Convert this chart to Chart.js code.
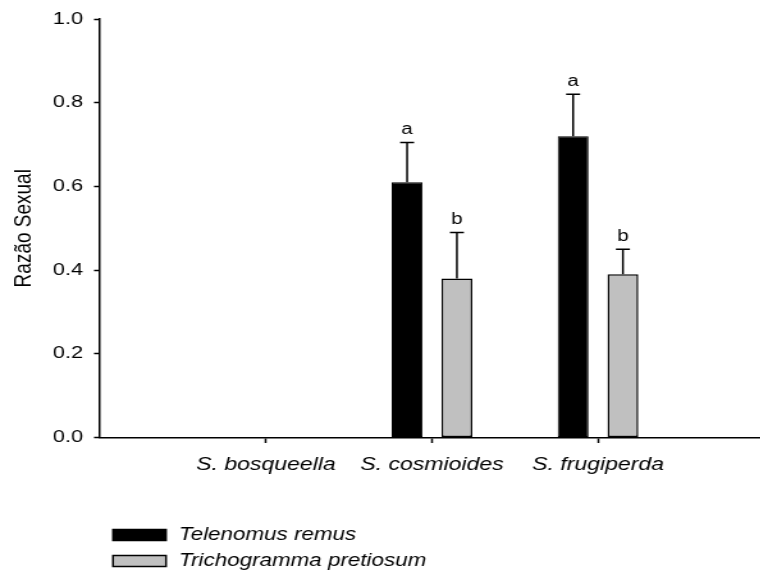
<!DOCTYPE html>
<html>
<head>
<meta charset="utf-8">
<script src="https://cdn.jsdelivr.net/npm/chart.js@4/dist/chart.umd.min.js"></script>
<style>
  html, body { margin: 0; padding: 0; background: #fff; overflow: hidden; width: 760px; height: 574px; }
  #wrap { height: 574px; transform-origin: 0 0; }
</style>
</head>
<body>
<div id="wrap"><canvas id="c"></canvas></div>
<script>
// Host species (x categories)
const species = ['S. bosqueella', 'S. cosmioides', 'S. frugiperda'];
// Parasitoid series
const seriesNames = ['Telenomus remus', 'Trichogramma pretiosum'];
// Sex ratio, mean and standard error, per host
const remusMean = [null, 0.61, 0.72];
const remusSE = [null, 0.095, 0.10];
const remusLetters = ['', 'a', 'a'];
const pretiosumMean = [null, 0.38, 0.39];
const pretiosumSE = [null, 0.11, 0.06];
const pretiosumLetters = ['', 'b', 'b'];
// Y axis ticks
const yTicks = [0, 0.2, 0.4, 0.6, 0.8, 1.0];

const FONT = "'Liberation Sans', Arial, Helvetica, sans-serif";

// The figure is drawn narrow and widened horizontally (broad lettering of the original plot).
const SX = 1.28;
const px = v => v / SX;          // page-horizontal pixels -> canvas pixels
const CANVAS_W = Math.ceil(px(772));
const canvas = document.getElementById('c');
canvas.width = CANVAS_W;
canvas.height = 574;
const wrap = document.getElementById('wrap');
wrap.style.width = CANVAS_W + 'px';
wrap.style.transform = 'scaleX(' + SX + ')';

// hosts sit at 1..n on a 0..n+1 axis
const toPoints = arr => arr.map((v, i) => ({ x: i + 1, y: v }));

// upward standard-error whiskers with significance letters above them
const errorBars = {
  id: 'errorBars',
  afterDatasetsDraw(chart) {
    const ctx = chart.ctx;
    const yScale = chart.scales.y;
    chart.data.datasets.forEach((ds, d) => {
      const meta = chart.getDatasetMeta(d);
      ds.data.forEach((pt, i) => {
        if (pt.y == null) return;
        const bar = meta.data[i];
        const top = yScale.getPixelForValue(pt.y + ds.errors[i]);
        const half = px(7);
        ctx.save();
        ctx.strokeStyle = '#000';
        ctx.lineWidth = 1.5;
        ctx.beginPath();
        ctx.moveTo(bar.x, bar.y);
        ctx.lineTo(bar.x, top);
        ctx.moveTo(bar.x - half, top);
        ctx.lineTo(bar.x + half, top);
        ctx.stroke();
        ctx.fillStyle = '#000';
        ctx.font = '16px ' + FONT;
        ctx.textAlign = 'center';
        ctx.textBaseline = 'alphabetic';
        ctx.fillText(ds.letters[i], bar.x, top - 8);
        ctx.restore();
      });
    });
  }
};

// stacked legend below the plot
const stackedLegend = {
  id: 'stackedLegend',
  afterDraw(chart) {
    const ctx = chart.ctx;
    chart.data.datasets.forEach((ds, k) => {
      const yc = 535 + k * 26;
      ctx.save();
      ctx.fillStyle = ds.backgroundColor;
      ctx.strokeStyle = '#000';
      ctx.lineWidth = 1.5;
      ctx.fillRect(px(113), yc - 5.5, px(53), 11);
      ctx.strokeRect(px(113), yc - 5.5, px(53), 11);
      ctx.fillStyle = '#000';
      ctx.font = 'italic 17.5px ' + FONT;
      ctx.textAlign = 'left';
      ctx.textBaseline = 'middle';
      ctx.fillText(ds.label, px(179), yc + 0.5);
      ctx.restore();
    });
  }
};

new Chart(canvas, {
  type: 'bar',
  data: {
    datasets: [
      {
        label: seriesNames[0],
        data: toPoints(remusMean),
        errors: remusSE,
        letters: remusLetters,
        backgroundColor: '#000000',
        borderColor: '#000000',
        borderWidth: 1,
        borderSkipped: false
      },
      {
        label: seriesNames[1],
        data: toPoints(pretiosumMean),
        errors: pretiosumSE,
        letters: pretiosumLetters,
        backgroundColor: '#c0c0c0',
        borderColor: '#000000',
        borderWidth: 1.5,
        borderSkipped: false
      }
    ]
  },
  options: {
    responsive: false,
    animation: false,
    categoryPercentage: 0.6,
    barPercentage: 0.62,
    layout: { padding: { top: 19, right: CANVAS_W - px(764), bottom: 0, left: 0 } },
    plugins: { legend: { display: false }, tooltip: { enabled: false } },
    scales: {
      x: {
        type: 'linear',
        offset: false,
        min: 0,
        max: species.length + 1,
        afterBuildTicks: s => { s.ticks = species.map((_, i) => ({ value: i + 1 })); },
        afterFit: s => { s.height = 136.5; },
        ticks: {
          callback: v => species[v - 1] ?? '',
          font: { family: FONT, size: 18, style: 'italic' },
          color: '#000',
          padding: 11.5,
          maxRotation: 0,
          autoSkip: false
        },
        grid: { offset: false, drawOnChartArea: false, drawTicks: true, tickLength: 5.5, tickColor: '#000', tickWidth: 1.5 },
        border: { display: true, color: '#000', width: 1.5 }
      },
      y: {
        min: 0,
        max: 1,
        afterBuildTicks: s => { s.ticks = yTicks.map(v => ({ value: v })); },
        afterFit: s => { s.width = px(100); },
        ticks: {
          callback: v => v.toFixed(1),
          font: { family: FONT, size: 17 },
          color: '#000',
          padding: px(11)
        },
        grid: { drawOnChartArea: false, drawTicks: true, tickLength: px(6), tickColor: '#000', tickWidth: 1.5 },
        border: { display: true, color: '#000', width: 1.5 },
        title: {
          display: true,
          text: 'Razão Sexual',
          font: { family: FONT, size: 19 },
          color: '#000',
          padding: { top: px(24) - 11.4, bottom: 0 }
        }
      }
    }
  },
  plugins: [errorBars, stackedLegend]
});
</script>
</body>
</html>
